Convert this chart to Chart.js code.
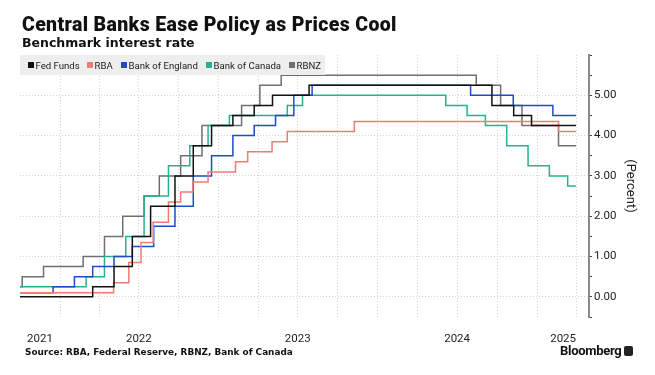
<!DOCTYPE html>
<html>
<head>
<meta charset="utf-8">
<script src="https://cdn.jsdelivr.net/npm/chart.js"></script>
<style>
  body { margin: 0; background: #fff; }
  #wrap { position: relative; width: 655px; height: 375px; overflow: hidden; font-family: Roboto, "Open Sans", sans-serif; color: #111; }
  #chart { position: absolute; left: 0; top: 0; }
  .title { position: absolute; left: 22px; top: 13px; font: 900 19.5px Roboto, sans-serif; letter-spacing: 0.35px; white-space: nowrap; }
  .subtitle { position: absolute; left: 22px; top: 35px; font: 700 12.5px "DejaVu Sans", sans-serif; white-space: nowrap; }
  .legend { position: absolute; left: 20px; top: 55px; width: 305px; height: 20px; background: #eeeeee; font: 9.6px Roboto, sans-serif; color: #222; white-space: nowrap; }
  .legend span.item { position: absolute; top: 0; height: 20px; display: flex; align-items: center; }
  .legend i { display: inline-block; width: 6px; height: 6px; margin-right: 1.5px; }
  .source { position: absolute; left: 25px; top: 347px; font: 700 8.9px "DejaVu Sans", sans-serif; white-space: nowrap; }
  .brand { position: absolute; left: 560px; top: 343px; font: 700 13px Roboto, sans-serif; letter-spacing: -0.3px; display: flex; align-items: center; }
  .brand b { display: inline-block; width: 9px; height: 10px; background: #222; border-radius: 2px; margin-left: 3px; }
</style>
</head>
<body>
<div id="wrap">
  <canvas id="chart" width="655" height="375"></canvas>
  <div class="title">Central Banks Ease Policy as Prices Cool</div>
  <div class="subtitle">Benchmark interest rate</div>
  <div class="legend" id="legend"></div>
  <div class="source">Source: RBA, Federal Reserve, RBNZ, Bank of Canada</div>
  <div class="brand">Bloomberg<b></b></div>
</div>
<script>
// policy rate changes (date of change, new rate); last entry = end of data
const fedDates = ["2021-10-01","2022-03-17","2022-05-05","2022-06-16","2022-07-28","2022-09-22","2022-11-03","2022-12-15","2023-02-02","2023-03-23","2023-05-04","2023-07-27","2024-09-19","2024-11-08","2024-12-19","2025-03-31"];
const fedRates = [0, 0.25, 0.75, 1.5, 2.25, 3.0, 3.75, 4.25, 4.5, 4.75, 5.0, 5.25, 4.75, 4.5, 4.25, 4.25];

const rbaDates = ["2021-10-01","2022-05-04","2022-06-08","2022-07-06","2022-08-03","2022-09-07","2022-10-05","2022-11-02","2022-12-07","2023-02-08","2023-03-08","2023-05-03","2023-06-07","2023-11-08","2025-02-19","2025-03-31"];
const rbaRates = [0.1, 0.35, 0.85, 1.35, 1.85, 2.35, 2.6, 2.85, 3.1, 3.35, 3.6, 3.85, 4.1, 4.35, 4.1, 4.1];

const boeDates = ["2021-10-01","2021-12-16","2022-02-03","2022-03-17","2022-05-05","2022-06-16","2022-08-04","2022-09-22","2022-11-03","2022-12-15","2023-02-02","2023-03-23","2023-05-11","2023-06-22","2023-08-03","2024-08-01","2024-11-07","2025-02-06","2025-03-31"];
const boeRates = [0.1, 0.25, 0.5, 0.75, 1.0, 1.25, 1.75, 2.25, 3.0, 3.5, 4.0, 4.25, 4.5, 5.0, 5.25, 5.0, 4.75, 4.5, 4.5];

const bocDates = ["2021-10-01","2022-03-02","2022-04-13","2022-06-01","2022-07-13","2022-09-07","2022-10-26","2022-12-07","2023-01-25","2023-06-07","2023-07-12","2024-06-05","2024-07-24","2024-09-04","2024-10-23","2024-12-11","2025-01-29","2025-03-12","2025-03-31"];
const bocRates = [0.25, 0.5, 1.0, 1.5, 2.5, 3.25, 3.75, 4.25, 4.5, 4.75, 5.0, 4.75, 4.5, 4.25, 3.75, 3.25, 3.0, 2.75, 2.75];

const rbnzDates = ["2021-10-01","2021-10-06","2021-11-24","2022-02-23","2022-04-13","2022-05-25","2022-07-13","2022-08-17","2022-10-05","2022-11-23","2023-02-22","2023-04-05","2023-05-24","2024-08-14","2024-10-09","2024-11-27","2025-02-19","2025-03-31"];
const rbnzRates = [0.25, 0.5, 0.75, 1.0, 1.5, 2.0, 2.5, 3.0, 3.5, 4.25, 4.75, 5.25, 5.5, 5.25, 4.75, 4.25, 3.75, 3.75];

const seriesNames = ["Fed Funds", "RBA", "Bank of England", "Bank of Canada", "RBNZ"];
const seriesColors = ["#111111", "#ee7b78", "#1f4cc4", "#22b392", "#6f6f6f"];

const yearLabels = ["2021", "2022", "2023", "2024", "2025"];
const yTicks = [-0.5, 0, 0.5, 1, 1.5, 2, 2.5, 3, 3.5, 4, 4.5, 5, 5.5, 6];

const xStart = "2021-10-01";
const xEnd = "2025-04-30";

// legend item x positions inside the box
const legendLeft = [8, 67, 101, 186, 269];

const t = s => Date.parse(s);
const toPoints = (dates, rates) => dates.map((d, i) => ({ x: t(d), y: rates[i] }));

const xMin = t(xStart);
const xMax = t(xEnd);

// grid at quarter starts
const quarterTicks = [];
for (let y = 2021; y <= 2025; y++) {
  for (let m = 0; m < 12; m += 3) {
    const v = Date.UTC(y, m, 1);
    if (v > xMin && v < xMax) quarterTicks.push(v);
  }
}
// year labels centred in the visible part of each year
const labelAt = {};
yearLabels.forEach(yl => {
  const y = Number(yl);
  const a = Math.max(Date.UTC(y, 0, 1), xMin);
  const b = Math.min(Date.UTC(y + 1, 0, 1), xMax);
  let mid = (a + b) / 2;
  const q = quarterTicks.find(v => Math.abs(v - mid) < 86400000 * 5);
  if (q) mid = q;
  labelAt[mid] = yl;
});
const gridSet = new Set(quarterTicks);
const allXTicks = Array.from(new Set(quarterTicks.concat(Object.keys(labelAt).map(Number)))).sort((a, b) => a - b);

const allData = [
  toPoints(fedDates, fedRates),
  toPoints(rbaDates, rbaRates),
  toPoints(boeDates, boeRates),
  toPoints(bocDates, bocRates),
  toPoints(rbnzDates, rbnzRates)
];

document.getElementById("legend").innerHTML = seriesNames.map((n, i) =>
  `<span class="item" style="left:${legendLeft[i]}px"><i style="background:${seriesColors[i]}"></i>${n}</span>`
).join("");

new Chart(document.getElementById("chart"), {
  type: "line",
  data: {
    datasets: seriesNames.map((n, i) => ({
      label: n,
      data: allData[i],
      borderColor: seriesColors[i],
      backgroundColor: seriesColors[i],
      borderWidth: 1.5,
      pointRadius: 0,
      stepped: "before",
      fill: false
    }))
  },
  options: {
    responsive: false,
    devicePixelRatio: 1,
    animation: false,
    layout: { padding: { left: 20, top: 55, right: 0, bottom: 0 } },
    plugins: { legend: { display: false }, tooltip: { enabled: false } },
    scales: {
      x: {
        type: "linear",
        min: xMin,
        max: xMax,
        afterBuildTicks: s => { s.ticks = allXTicks.map(v => ({ value: v })); },
        afterFit: s => { s.height = 58; },
        grid: {
          drawTicks: false,
          color: c => (c.tick && gridSet.has(c.tick.value)) ? "#d4d4d4" : "rgba(0,0,0,0)",
          lineWidth: 1
        },
        border: { display: false, dash: [1, 2] },
        ticks: {
          autoSkip: false,
          maxRotation: 0,
          padding: 15,
          color: "#222",
          font: { family: "Roboto", size: 11.5 },
          callback: v => labelAt[v] || ""
        }
      },
      y: {
        type: "linear",
        position: "right",
        min: -0.5,
        max: 6,
        afterBuildTicks: s => { s.ticks = yTicks.map(v => ({ value: v })); },
        afterFit: s => { s.width = 66; },
        grid: {
          color: c => (c.tick && Number.isInteger(c.tick.value) && c.tick.value >= 0 && c.tick.value < 6) ? "#d4d4d4" : "rgba(0,0,0,0)",
          tickColor: "#444",
          tickLength: 3,
          lineWidth: 1
        },
        border: { display: true, color: "#8a8a8a", width: 2, dash: [1, 2] },
        ticks: {
          padding: 2,
          color: "#222",
          font: { family: "Roboto", size: 11.5 },
          callback: v => (Number.isInteger(v) && v >= 0 && v < 6) ? v.toFixed(2) : ""
        },
        title: {
          display: true,
          text: "(Percent)",
          color: "#222",
          font: { family: "Roboto", size: 13 },
          padding: { top: 17, bottom: 0 }
        }
      }
    }
  }
});
</script>
</body>
</html>
